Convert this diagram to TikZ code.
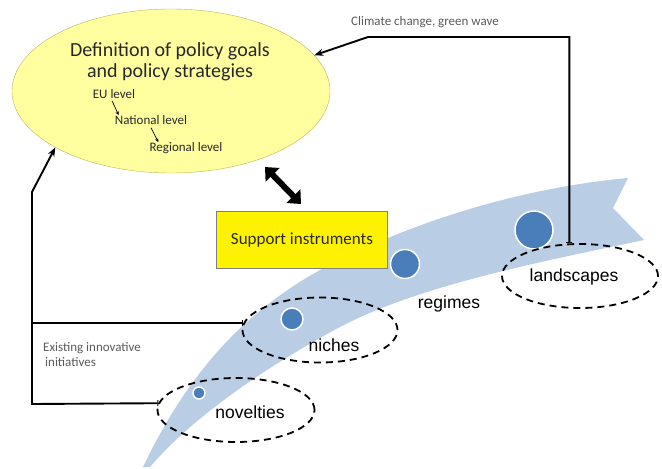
\documentclass[tikz,border=0pt]{standalone}
\usepackage{fontspec}
\setmainfont{Carlito}
\newfontfamily\arialfont{Liberation Sans}
\usetikzlibrary{arrows.meta,shapes.geometric}
\definecolor{swooshblue}{RGB}{185,205,228}
\definecolor{bubbleblue}{RGB}{74,126,187}
\definecolor{paleyellow}{RGB}{255,255,160}
\definecolor{ellipseedge}{RGB}{190,180,90}
\definecolor{notegray}{RGB}{90,90,90}
\definecolor{inktext}{RGB}{40,40,40}

\begin{document}
\begin{tikzpicture}[x=1pt,y=-1pt,
  stage/.style={draw,ellipse,dash pattern=on 7pt off 5pt,line width=1.8pt,inner sep=0pt},
  stagetext/.style={inner sep=0pt,font=\arialfont\fontsize{17.5}{20}\selectfont},
  bubble/.style={circle,fill=bubbleblue,draw=white,line width=1.5pt,inner sep=0pt},
  link/.style={line width=1.9pt,{Bar[width=6pt,line width=1pt]}-{Stealth[length=9pt,width=7pt]}},
  note/.style={text=notegray,inner sep=0pt,font=\fontsize{13}{15}\selectfont}]
			\useasboundingbox (0,0) rectangle (662,469);
			\fill[swooshblue] (143,467) .. controls (180,390) and (230,320) .. (320,270)
			  .. controls (410,222) and (520,188) .. (628,178) -- (613,208) -- (644,240)
			  .. controls (540,262) and (420,285) .. (340,327)
			  .. controls (260,370) and (190,420) .. (150,467) -- cycle;
			
			\node[draw=ellipseedge,fill=paleyellow,ellipse,minimum width=318pt,minimum height=164pt,inner sep=0pt] (PolicyGoals) at (171,91) {};
			\node[text=inktext,align=center,inner sep=0pt,font=\fontsize{20}{21}\selectfont] (GoalsTitle) at (170,62) {Definition of policy goals\\and policy strategies};
			\node[text=inktext,inner sep=0pt,font=\fontsize{13}{15}\selectfont] (EULevel) at (114,94) {EU level};
			\node[text=inktext,inner sep=0pt,font=\fontsize{13}{15}\selectfont] (NationalLevel) at (151,120) {National level};
			\node[text=inktext,inner sep=0pt,font=\fontsize{13}{15}\selectfont] (RegionalLevel) at (186,148) {Regional level};
			\draw[-{Stealth[length=4pt,width=3.5pt]},line width=0.7pt] ([xshift=-2pt,yshift=-2pt]EULevel.south) -- ([xshift=4pt]NationalLevel.north west);
			\draw[-{Stealth[length=4pt,width=3.5pt]},line width=0.7pt] ([yshift=-3pt]NationalLevel.south) -- ([xshift=9pt]RegionalLevel.north west);
			
			\node[draw=gray,fill=yellow,minimum width=171pt,minimum height=57pt,text=inktext,font=\fontsize{17}{20}\selectfont] (SupportBox) at (302,240) {Support instruments};
			\coordinate (ArrowTop) at (265,167);
			\coordinate (ArrowBot) at (301,204);
			\draw[line width=6pt,{Triangle[length=11pt,width=19pt]}-{Triangle[length=11pt,width=19pt]}] (ArrowTop) -- (ArrowBot);
			
			\node[bubble,minimum size=12pt] (NoveltyDot) at (199,393) {};
			\node[bubble,minimum size=22pt] (NicheDot) at (292,319) {};
			\node[bubble,minimum size=29pt] (RegimeDot) at (405,264) {};
			\node[bubble,minimum size=38pt] (LandscapeDot) at (534,230) {};
			
			\node[stage,minimum width=156pt,minimum height=64pt] (Landscapes) at (580,276) {};
			\node[stage,minimum width=155pt,minimum height=65pt] (Niches) at (320,330) {};
			\node[stage,minimum width=157pt,minimum height=64pt] (Novelties) at (236,410) {};
			\node[stagetext] (LandscapesText) at (574,277) {landscapes};
			\node[stagetext] (NichesText) at (334,345) {niches};
			\node[stagetext] (NoveltiesText) at (250,412) {novelties};
			\node[stagetext] (RegimesText) at (449,304) {regimes};
			
			\coordinate (ClimateBend) at (368,37);
			\coordinate (LeftBottom) at (32,404);
			\coordinate (LeftBend) at (32,192);
			\draw[link] (Landscapes.108) |- (ClimateBend) -- (PolicyGoals.14);
			\draw[link] (Novelties.175) -- (LeftBottom) -- (LeftBend) -- (PolicyGoals.206);
			\draw[line width=1.9pt,{Bar[width=6pt,line width=1pt]}-] (Niches.175) -- (Niches.175 -| LeftBottom);
			\node[note] (ClimateText) at (425,22) {Climate change, green wave};
			\node[note,align=left,anchor=west] (ExistingText) at (43,355) {Existing innovative\\\hspace{2pt}initiatives};
\end{tikzpicture}
\end{document}
